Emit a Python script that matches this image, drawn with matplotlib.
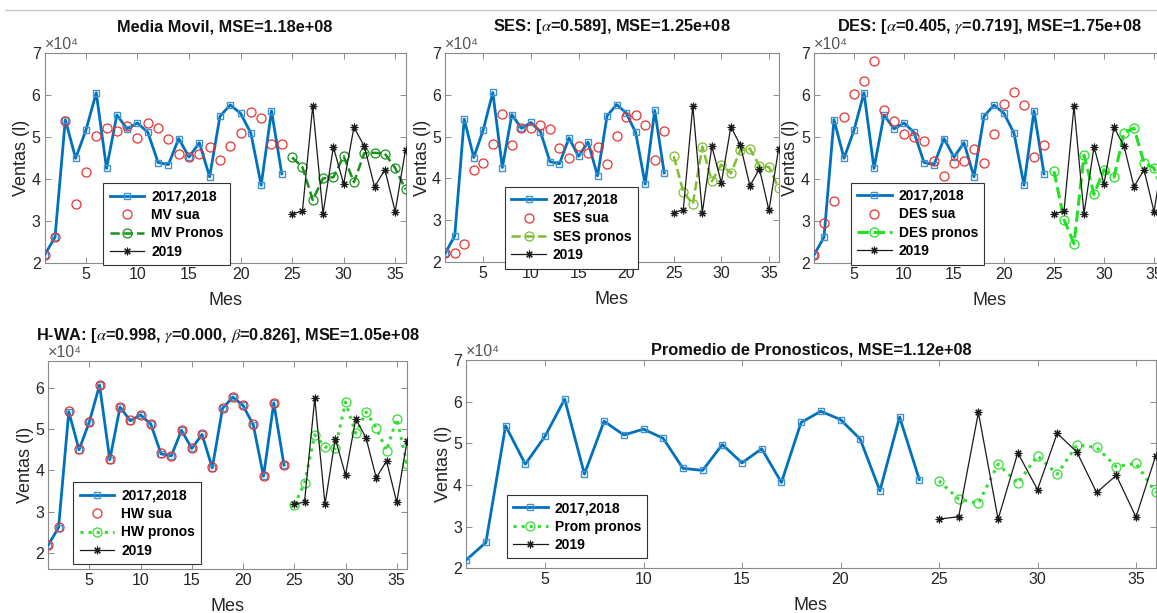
import matplotlib
matplotlib.use("Agg")
import matplotlib.pyplot as plt
from matplotlib.ticker import FuncFormatter, FixedLocator
from matplotlib.lines import Line2D

# ---------------- data ----------------
mes_hist = list(range(1, 25))
mes_2019 = list(range(25, 37))

ventas_1718 = [22000, 26200, 54200, 45000, 51700, 60600, 42600, 55300, 52000, 53400, 51200, 44000,
               43500, 49700, 45300, 48700, 40600, 55000, 57700, 55700, 51000, 38600, 56300, 41300]
ventas_2019 = [31800, 32400, 57400, 31800, 47700, 38900, 52400, 47900, 38200, 42300, 32300, 47000]

mv_sua = [22000, 26200, 54000, 34100, 41700, 50200, 52300, 51500, 52800, 49900, 53400, 52100,
          49500, 46100, 45200, 46000, 47600, 44600, 48000, 51000, 56000, 54600, 48300, 48500]
mv_pronos = [45200, 42900, 35100, 40200, 40500, 45500, 39300, 46200, 46300, 46100, 42700, 37600]

ses_sua = [22000, 22000, 24300, 41900, 43700, 48300, 55500, 48000, 52100, 52000, 52900, 51900,
           47200, 44900, 47700, 46100, 47600, 43500, 50200, 54600, 55100, 52700, 44400, 51300]
ses_pronos = [45300, 36800, 33800, 47600, 39300, 43300, 41200, 46800, 47100, 43000, 42700, 37700]

des_sua = [22000, 29700, 34800, 54900, 60200, 63400, 68200, 56400, 54000, 50700, 50000, 49200,
           44300, 40800, 43800, 44300, 47100, 43800, 50800, 58000, 60700, 57700, 45400, 48200]
des_pronos = [41900, 30400, 24700, 45700, 36400, 42300, 40500, 51100, 52200, 43900, 42700, 36000]

hw_sua = [22000, 26300, 54300, 45100, 51800, 60700, 42700, 55400, 52100, 53500, 51300, 44100,
          43600, 49800, 45400, 48800, 40800, 55100, 57700, 55800, 51100, 38700, 56300, 41400]
hw_pronos = [31600, 36900, 48600, 45700, 45300, 56500, 49000, 54100, 50300, 44800, 52500, 41500]

prom_pronos = [41000, 36600, 35600, 45000, 40400, 47000, 42600, 49600, 49000, 44400, 45200, 38200]

xticks = [5, 10, 15, 20, 25, 30, 35]
yticks = [20000, 30000, 40000, 50000, 60000, 70000]

titles = ["Media Movil, MSE=1.18e+08",
          r"SES: [$\alpha$=0.589], MSE=1.25e+08",
          r"DES: [$\alpha$=0.405, $\gamma$=0.719], MSE=1.75e+08",
          r"H-WA: [$\alpha$=0.998, $\gamma$=0.000, $\beta$=0.826], MSE=1.05e+08",
          "Promedio de Pronosticos, MSE=1.12e+08"]

# ---------------- style ----------------
plt.rcParams['font.family'] = ['Liberation Sans', 'DejaVu Sans']
plt.rcParams['mathtext.fontset'] = 'stix'

W, H = 1157, 613
fig = plt.figure(figsize=(W / 100, H / 100), dpi=100)
fig.patch.set_facecolor('white')

BLUE = '#0072BD'
SQ_EDGE = '#3f93d2'
RED = '#e8322f'
AXC = '#262626'
STAR = (8, 2, 0)


def add_ax(x0, x1, ytop, ybot):
    return fig.add_axes([x0 / W, 1 - ybot / H, (x1 - x0) / W, (ybot - ytop) / H])


def style(ax, ylim, title, title_pad=16):
    ax.set_xlim(1, 36)
    ax.set_ylim(*ylim)
    ax.xaxis.set_major_locator(FixedLocator(xticks))
    ax.yaxis.set_major_locator(FixedLocator(yticks))
    ax.yaxis.set_major_formatter(FuncFormatter(lambda v, p: f"{v / 1e4:g}"))
    ax.tick_params(direction='in', top=True, right=True, length=4, width=0.6,
                   colors='#7a7a7a', labelcolor=AXC, labelsize=11.5, pad=3)
    for s in ax.spines.values():
        s.set_color('#8a8a8a')
        s.set_linewidth(0.8)
    ax.set_xlabel('Mes', fontsize=13, color=AXC, labelpad=7)
    ax.set_ylabel('Ventas (l)', fontsize=13, color=AXC, labelpad=1)
    ax.set_title(title, fontsize=11.8, fontweight='bold', color='#111111', pad=title_pad)
    ax.text(0.0, 1.005, '×10⁴', transform=ax.transAxes, fontsize=11.5, color='#555555',
            ha='left', va='bottom')


def plot_hist(ax):
    ax.plot(mes_hist, ventas_1718, '-s', color=BLUE, lw=2, ms=5, mfc='none', mec=SQ_EDGE, mew=1.0,
            label='2017,2018', zorder=3)


def plot_2019(ax):
    ax.plot(mes_2019, ventas_2019, '-', marker=STAR, color='#1a1a1a', lw=0.9, ms=5.5, mew=0.8,
            label='2019', zorder=4)


def legend(ax, x, y):
    lg = ax.legend(loc='upper left', bbox_to_anchor=(x / W, 1 - y / H), bbox_transform=fig.transFigure,
                   borderaxespad=0, fancybox=False, framealpha=1, edgecolor='#333333',
                   prop={'weight': 'bold', 'size': 10}, handlelength=2.5, handletextpad=0.5,
                   labelspacing=0.32, borderpad=0.45)
    lg.get_frame().set_linewidth(0.8)
    lg.set_zorder(10)
    return lg


# ---- subplot 1: Media Movil
ax1 = add_ax(44.7, 405.5, 53.3, 263.3)
plot_hist(ax1)
ax1.plot(mes_hist, mv_sua, 'o', ls='none', color=RED, ms=6.5, mfc='none', mew=0.9, label='MV sua', zorder=4)
ax1.plot(mes_2019, mv_pronos, '--o', color='#17921a', lw=1.8, ms=6.5, mfc='none', mew=0.9,
         label='MV Pronos', zorder=3)
plot_2019(ax1)
style(ax1, (20000, 70000), titles[0])
legend(ax1, 103.3, 183.3)

# ---- subplot 2: SES
ax2 = add_ax(445.2, 778.5, 53.3, 261.7)
plot_hist(ax2)
ax2.plot(mes_hist, ses_sua, 'o', ls='none', color=RED, ms=6.5, mfc='none', mew=0.9, label='SES sua', zorder=4)
ax2.plot(mes_2019, ses_pronos, '--o', color='#7fbf2f', lw=1.8, ms=6.5, mfc='none', mew=0.9,
         label='SES pronos', zorder=3)
plot_2019(ax2)
style(ax2, (20000, 70000), titles[1])
legend(ax2, 505, 186.7)

# ---- subplot 3: DES
ax3 = add_ax(814, 1164, 53.3, 263.3)
plot_hist(ax3)
ax3.plot(mes_hist, des_sua, 'o', ls='none', color=RED, ms=6.5, mfc='none', mew=0.9, label='DES sua', zorder=4)
ax3.plot(mes_2019, des_pronos, '--o', color='#22e022', lw=2.2, ms=6.5, mfc='none', mew=0.9,
         label='DES pronos', zorder=3)
plot_2019(ax3)
style(ax3, (20000, 70000), titles[2])
legend(ax3, 850.7, 182.7)

# ---- subplot 4: HW
ax4 = add_ax(48.3, 407, 360.7, 569)
plot_hist(ax4)
ax4.plot(mes_hist, hw_sua, 'o', ls='none', color=RED, ms=6.5, mfc='none', mew=0.9, label='HW sua', zorder=4)
ax4.plot(mes_2019, hw_pronos, ':o', color='#33dd33', lw=2.2, ms=6.5, mfc='none', mew=0.9,
         label='HW pronos', zorder=3)
plot_2019(ax4)
style(ax4, (16200, 66500), titles[3], title_pad=15)
legend(ax4, 73.3, 482.3)

# ---- subplot 5: Promedio
ax5 = add_ax(466.2, 1155.7, 360, 568.3)
plot_hist(ax5)
ax5.plot(mes_2019, prom_pronos, ':o', color='#33dd33', lw=2.2, ms=6.5, mfc='none', mew=0.9,
         label='Prom pronos', zorder=3)
plot_2019(ax5)
style(ax5, (20000, 70000), titles[4], title_pad=4)
legend(ax5, 506.7, 495)

# top gray border line
fig.add_artist(Line2D([5 / W, 1], [1 - 9.5 / H, 1 - 9.5 / H], color='#c8c8c8', lw=1.0,
                      transform=fig.transFigure))

fig.savefig('out.png', dpi=100, facecolor='white')
